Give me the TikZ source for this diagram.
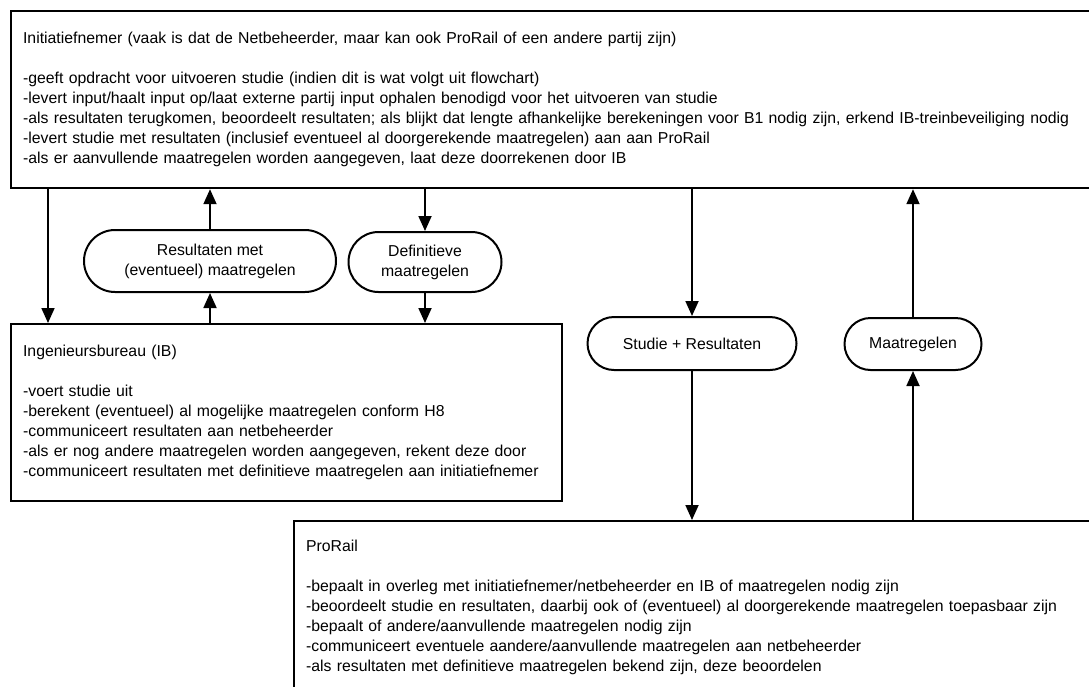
\documentclass[tikz,border=0pt]{standalone}
\usepackage{fontspec}
\setmainfont{Liberation Sans}
\usetikzlibrary{arrows.meta,shapes.misc}

\begin{document}
\begin{tikzpicture}[x=1pt, y=-1pt,
		every node/.style = {font=\fontsize{15.8}{20}\selectfont},
		box/.style = {draw, line width=2.2pt, anchor=north west, align=left, inner xsep=12pt, minimum height=177pt},
		flow/.style = {draw, line width=2pt, rounded rectangle, align=center, inner sep=2pt},
		>={Triangle[length=15pt, width=13pt]}, line width=1.8pt]
		\useasboundingbox[fill=white] (0,0) rectangle (1089,686);
		% de drie partijen
		\node[box, text width=1100pt] (init) at (10,10) {Initiatiefnemer (vaak is dat de Netbeheerder, maar kan ook ProRail of een andere partij zijn)\\[20pt]
			-geeft opdracht voor uitvoeren studie (indien dit is wat volgt uit flowchart)\\
			-levert input/haalt input op/laat externe partij input ophalen benodigd voor het uitvoeren van studie\\
			-als resultaten terugkomen, beoordeelt resultaten; als blijkt dat lengte afhankelijke berekeningen voor B1 nodig zijn, erkend IB-treinbeveiliging nodig\\
			-levert studie met resultaten (inclusief eventueel al doorgerekende maatregelen) aan aan ProRail\\
			-als er aanvullende maatregelen worden aangegeven, laat deze doorrekenen door IB};
		\node[box, text width=527pt] (ib) at (10,323) {Ingenieursbureau (IB)\\[20pt]
			-voert studie uit\\
			-berekent (eventueel) al mogelijke maatregelen conform H8\\
			-communiceert resultaten aan netbeheerder\\
			-als er nog andere maatregelen worden aangegeven, rekent deze door\\
			-communiceert resultaten met definitieve maatregelen aan initiatiefnemer};
		\node[box, text width=1100pt, minimum height=172pt] (prorail) at (293,520) {ProRail\\[20pt]
			-bepaalt in overleg met initiatiefnemer/netbeheerder en IB of maatregelen nodig zijn\\
			-beoordeelt studie en resultaten, daarbij ook of (eventueel) al doorgerekende maatregelen toepasbaar zijn\\
			-bepaalt of andere/aanvullende maatregelen nodig zijn\\
			-communiceert eventuele aandere/aanvullende maatregelen aan netbeheerder\\
			-als resultaten met definitieve maatregelen bekend zijn, deze beoordelen};
		% wat er wordt uitgewisseld
		\node[flow, minimum width=256pt, minimum height=62pt] (res) at (210,261) {Resultaten met\\(eventueel) maatregelen};
		\node[flow, minimum width=157pt, minimum height=60pt] (def) at (425,262) {Definitieve\\maatregelen};
		\node[flow, minimum width=213pt, minimum height=53pt] (stud) at (692,343.5) {Studie + Resultaten};
		\node[flow, minimum width=141pt, minimum height=52pt] (maat) at (913,344) {Maatregelen};
		\draw[->] ([xshift=38pt]ib.north west |- init.south) -- ([xshift=38pt]ib.north west);
		\draw[->] (res.north) -- (res.north |- init.south);
		\draw[->] (res.south |- ib.north) -- (res.south);
		\draw[->] (def.north |- init.south) -- (def.north);
		\draw[->] (def.south) -- (def.south |- ib.north);
		\draw[->] (stud.north |- init.south) -- (stud.north);
		\draw[->] (stud.south) -- (stud.south |- prorail.north);
		\draw[->] (maat.north) -- (maat.north |- init.south);
		\draw[->] (maat.south |- prorail.north) -- (maat.south);
	\end{tikzpicture}
\end{document}
